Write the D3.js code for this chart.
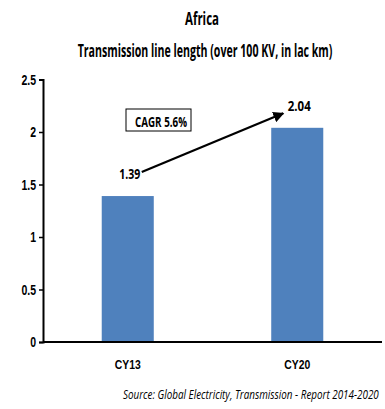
<!DOCTYPE html>
<html>
<head>
<meta charset="utf-8">
<script src="https://cdn.jsdelivr.net/npm/d3@7"></script>
<style>
  html, body { margin: 0; padding: 0; background: #fff; }
  svg { display: block; font-family: "Open Sans", "Liberation Sans", sans-serif; }
</style>
</head>
<body>
<svg id="chart" width="385" height="409"></svg>
<script>
// Transmission line length in Africa, lakh km
const categories = ["CY13", "CY20"];
const values = [1.39, 2.04];
const valueLabels = ["1.39", "2.04"];
const yTicks = [0, 0.5, 1, 1.5, 2, 2.5];
const cagrLabel = "CAGR 5.6%";
const titleText = "Africa";
const subtitleText = "Transmission line length (over 100 KV, in lac km)";
const sourceText = "Source: Global Electricity, Transmission - Report 2014-2020";

const svg = d3.select("#chart");
const plotLeft = 43, plotRight = 382, plotTop = 79.5, plotBottom = 342;

// squeeze a text element to a given width (condensed look)
function squeeze(sel, factor) {
  sel.each(function () {
    const n = this.getComputedTextLength();
    d3.select(this).attr("textLength", n * factor).attr("lengthAdjust", "spacingAndGlyphs");
  });
}
function fitTo(sel, w) {
  sel.attr("textLength", w).attr("lengthAdjust", "spacingAndGlyphs");
}
// condensed text drawn through a horizontal scale transform
function condensed(px, py, anchor, w, styleFn, str) {
  const g = svg.append("g");
  const t = g.append("text").attr("text-anchor", anchor).call(styleFn).text(str);
  const n = t.node().getComputedTextLength();
  g.attr("transform", `translate(${px},${py}) scale(${w / n},1)`);
  return t;
}

const x = d3.scaleBand().domain(categories).range([plotLeft, plotRight])
  .paddingInner(0.693).paddingOuter(0.3465);
const y = d3.scaleLinear().domain([0, 2.5]).range([plotBottom, plotTop]);

// titles
condensed(202, 25, "middle", 34,
  s => s.attr("font-size", 17).attr("font-weight", "bold"), titleText);
condensed(205, 57, "middle", 255,
  s => s.attr("font-size", 17).attr("font-weight", "bold"), subtitleText);

// bars
svg.append("g").selectAll("rect").data(values).join("rect")
  .attr("x", (d, i) => x(categories[i]))
  .attr("y", d => y(d))
  .attr("width", x.bandwidth())
  .attr("height", d => y(0) - y(d))
  .attr("fill", "#4f81bd");

// y axis
const yAxis = svg.append("g").attr("transform", `translate(${plotLeft},0)`)
  .call(d3.axisLeft(y).tickValues(yTicks).tickSize(4).tickPadding(3)
    .tickFormat(d3.format("~g")));
yAxis.select(".domain").attr("stroke", "#000").attr("stroke-width", 2);
yAxis.selectAll(".tick line").attr("stroke", "#000").attr("stroke-width", 1.5);
yAxis.selectAll(".tick text").attr("font-size", 15).attr("font-weight", "bold")
  .attr("fill", "#000").call(squeeze, 0.7);

// x axis
const xAxis = svg.append("g").attr("transform", `translate(0,${plotBottom})`)
  .call(d3.axisBottom(x).tickSize(0).tickPadding(17));
xAxis.select(".domain").attr("stroke", "#000").attr("stroke-width", 2.2)
  .attr("d", `M${plotLeft},0H${plotRight}`);
xAxis.selectAll(".tick text").attr("font-size", 13.5).attr("font-weight", "bold")
  .attr("fill", "#000").call(fitTo, 26);

// value labels
svg.append("g").selectAll("text").data(values).join("text")
  .attr("x", (d, i) => x(categories[i]) + x.bandwidth() / 2 + 2)
  .attr("y", d => y(d) - 17)
  .attr("text-anchor", "middle")
  .attr("font-size", 14).attr("font-weight", "bold")
  .text((d, i) => valueLabels[i])
  .each(function (d, i) { fitTo(d3.select(this), i === 0 ? 21 : 23); });

// growth arrow between the two labels
svg.append("defs").append("marker").attr("id", "head")
  .attr("viewBox", "0 0 10 10").attr("refX", 9).attr("refY", 5)
  .attr("markerWidth", 5).attr("markerHeight", 5).attr("orient", "auto")
  .append("path").attr("d", "M0,0L10,5L0,10z").attr("fill", "#000");
const ax0 = x(categories[0]) + x.bandwidth() / 2 + 14;
const ax1 = x(categories[1]) + x.bandwidth() / 2 - 14;
svg.append("line")
  .attr("x1", ax0).attr("y1", y(values[0]) - 24)
  .attr("x2", ax1).attr("y2", y(values[1]) - 14.5)
  .attr("stroke", "#000").attr("stroke-width", 2.2)
  .attr("marker-end", "url(#head)");

// CAGR callout
svg.append("rect").attr("x", 126).attr("y", 109).attr("width", 65).attr("height", 22)
  .attr("fill", "#fff").attr("stroke", "#000").attr("stroke-width", 1);
svg.append("text").attr("x", 161).attr("y", 127).attr("text-anchor", "middle")
  .attr("font-size", 14).attr("font-weight", "bold").text(cagrLabel).call(fitTo, 52);

// source note
condensed(123, 399, "start", 256,
  s => s.attr("font-size", 13).attr("font-style", "italic"), sourceText);
</script>
</body>
</html>
